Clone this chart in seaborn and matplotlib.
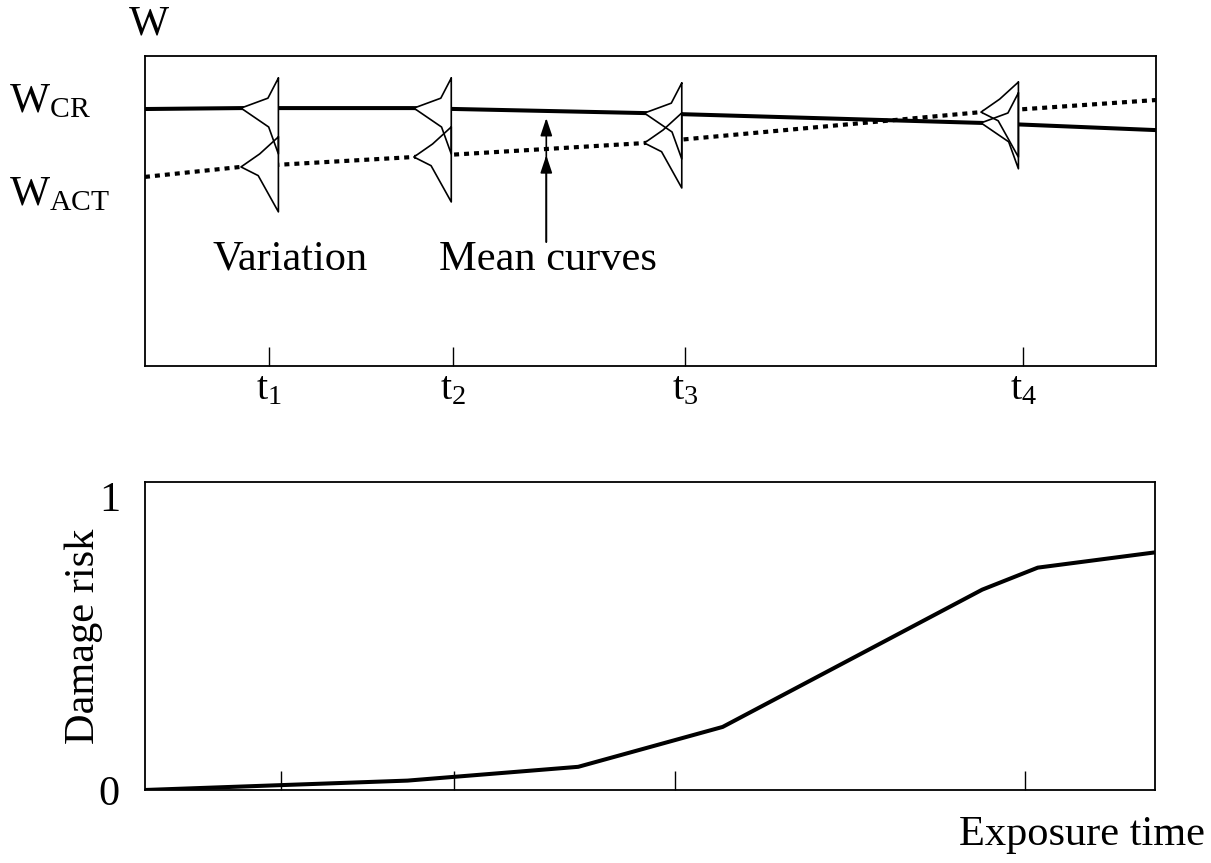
import numpy as np
import pandas as pd
import matplotlib
matplotlib.use('Agg')
import matplotlib.pyplot as plt
import seaborn as sns

# mean curves in the top panel (time 0..100, W scaled 0..1)
cr_time = [0, 9.5, 26.5, 49.3, 82.9, 100]
cr_mean = [0.829, 0.832, 0.832, 0.816, 0.784, 0.761]
act_time = [0, 9.4, 26.5, 49.3, 82.7, 100]
act_mean = [0.610, 0.642, 0.674, 0.719, 0.819, 0.858]

# times t1..t4
tick_times = [12.3, 30.5, 53.4, 86.9]
tick_labels = [r't$_1$', r't$_2$', r't$_3$', r't$_4$']
dist_times = [13.2, 30.3, 53.1, 86.4]

# sketched density profiles (offset from mean, relative density)
cr_offset = [0.097, 0.032, 0, -0.061, -0.148]
cr_density = [0, 0.28, 1, 0.26, 0]
act_offset = [0.097, 0.042, 0, -0.028, -0.145]
act_density = [0, 0.5, 1, 0.54, 0]
dist_width = 3.7

# damage risk curve in the bottom panel
risk_time = [0, 26.0, 42.9, 57.2, 82.9, 88.4, 100]
risk_value = [0, 0.032, 0.079, 0.215, 0.683, 0.758, 0.81]
risk_ticks = [13.5, 30.6, 52.5, 87.1]

sns.set_theme(style='white')
plt.rcParams['font.family'] = ['Liberation Serif', 'DejaVu Serif']
plt.rcParams['mathtext.fontset'] = 'custom'
plt.rcParams['mathtext.rm'] = 'Liberation Serif'
plt.rcParams['mathtext.it'] = 'Liberation Serif'
plt.rcParams['text.color'] = 'black'
plt.rcParams['axes.labelcolor'] = 'black'
plt.rcParams['xtick.color'] = 'black'
plt.rcParams['ytick.color'] = 'black'
FS = 30.5

fig = plt.figure(figsize=(12.11, 8.63), dpi=100)
ax1 = fig.add_axes([0.1197, 0.5759, 0.8348, 0.3592])
ax2 = fig.add_axes([0.1197, 0.0846, 0.8340, 0.3569])

for ax in (ax1, ax2):
    for sp in ax.spines.values():
        sp.set_visible(True)
        sp.set_color('black')
        sp.set_linewidth(1.3)
    ax.set_facecolor('white')

# top panel: mean curves
top = pd.DataFrame({'time': cr_time, 'W': cr_mean})
sns.lineplot(data=top, x='time', y='W', ax=ax1, color='black', lw=2.9, zorder=2)
bot = pd.DataFrame({'time': act_time, 'W': act_mean})
sns.lineplot(data=bot, x='time', y='W', ax=ax1, color='black', lw=3.0,
             linestyle=(0, (1.2, 1.2)), zorder=2)


def shape(t, xs, ys, offs, dens):
    m = np.interp(t - dist_width, xs, ys)
    px = [t - dist_width * d for d in dens]
    py = [m + o for o in offs]
    return px, py


# variation shapes at each time
profiles = ((cr_time, cr_mean, cr_offset, cr_density),
            (act_time, act_mean, act_offset, act_density))
for t in dist_times:
    for prof in profiles:
        px, py = shape(t, *prof)
        ax1.fill(px, py, color='white', zorder=3, lw=0)
    for prof in profiles:
        px, py = shape(t, *prof)
        ax1.plot(px + [px[0]], py + [py[0]], color='black', lw=1.2, zorder=4)

# mean curves arrows
for tip in (0.80, 0.68):
    ax1.annotate('', xy=(39.7, tip), xytext=(39.7, 0.40),
                 arrowprops=dict(arrowstyle='-|>,head_length=0.6,head_width=0.2',
                                 color='black', lw=1.2,
                                 mutation_scale=18, shrinkA=0, shrinkB=0))
ax1.text(14.4, 0.31, 'Variation', fontsize=FS, ha='center', va='baseline')
ax1.text(39.9, 0.31, 'Mean curves', fontsize=FS, ha='center', va='baseline')

ax1.set_xlim(0, 100)
ax1.set_ylim(0, 1)
ax1.set_yticks([])
ax1.set_xticks(tick_times)
ax1.set_xticklabels(tick_labels, fontsize=29)
ax1.tick_params(axis='x', direction='in', length=14, width=1.0, pad=4,
                bottom=True)
ax1.set_xlabel('')
ax1.set_ylabel('')

fig.text(149 / 1211, 1 - 24 / 863, 'W', fontsize=FS, ha='center', va='center')
fig.text(9 / 1211, 1 - 102 / 863, r'W$_{\mathrm{CR}}$', fontsize=FS,
         ha='left', va='center')
fig.text(9 / 1211, 1 - 195 / 863, r'W$_{\mathrm{ACT}}$', fontsize=FS,
         ha='left', va='center')

# bottom panel: damage risk
risk = pd.DataFrame({'time': risk_time, 'risk': risk_value})
sns.lineplot(data=risk, x='time', y='risk', ax=ax2, color='black', lw=2.9)
ax2.set_xlim(0, 100)
ax2.set_ylim(0, 1.05)
ax2.set_xticks(risk_ticks)
ax2.set_xticklabels([])
ax2.tick_params(axis='x', direction='in', length=14, width=1.0, bottom=True)
ax2.set_yticks([0, 1])
ax2.set_yticklabels(['0', '1'], fontsize=FS)
ax2.tick_params(axis='y', length=0, pad=18, left=True)
ax2.set_xlabel('')
ax2.set_ylabel('Damage risk', fontsize=FS)
ax2.yaxis.set_label_coords(-0.0415, 0.5)

fig.text(1205 / 1211, 1 - 835 / 863, 'Exposure time', fontsize=FS,
         ha='right', va='center')

fig.savefig('out.png', dpi=100, facecolor='white')
